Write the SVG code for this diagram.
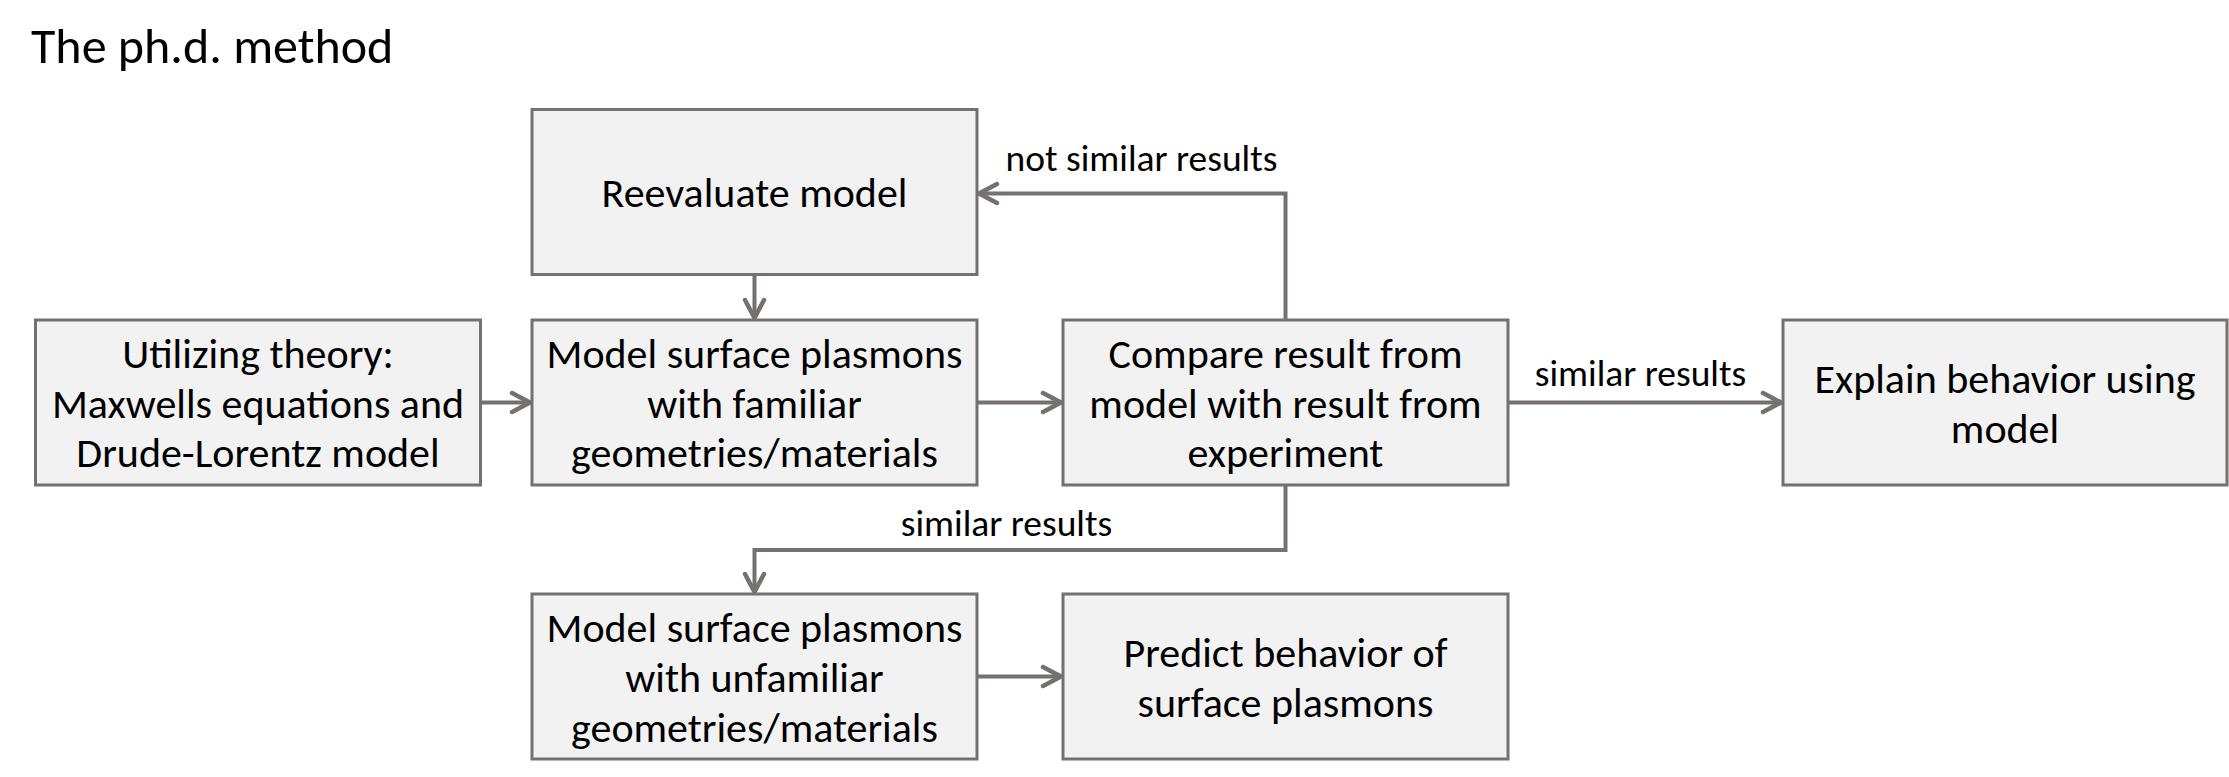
<svg xmlns="http://www.w3.org/2000/svg" width="2229" height="777" viewBox="0 0 2229 777">
<defs>
<style>
.box{fill:#F2F2F2;stroke:#767171;stroke-width:3}
.t{font-family:Carlito,Lato,"Liberation Sans",sans-serif;font-size:42px;fill:#000;text-anchor:middle}
.lbl{font-family:Carlito,Lato,"Liberation Sans",sans-serif;font-size:37.5px;fill:#000;text-anchor:middle}
.title{font-family:Carlito,Lato,"Liberation Sans",sans-serif;font-size:50px;fill:#000}
.c{fill:none;stroke:#767171;stroke-width:4}
</style>
<marker id="arr" markerUnits="userSpaceOnUse" viewBox="-3 -3 26 26" markerWidth="26" markerHeight="26" refX="18" refY="10" orient="auto">
<path d="M0,0.5 L18,10 L0,19.5" fill="none" stroke="#767171" stroke-width="4.5" stroke-linecap="round" stroke-linejoin="round"/>
</marker>
</defs>
<rect width="2229" height="777" fill="#fff"/>
<text class="title" x="31" y="63">The ph.d. method</text>

<g id="connectors">
<path class="c" d="M480.5,402.5 H530" marker-end="url(#arr)"/>
<path class="c" d="M977,402.5 H1061" marker-end="url(#arr)"/>
<path class="c" d="M1508,402.5 H1781" marker-end="url(#arr)"/>
<path class="c" d="M754.5,274 V318" marker-end="url(#arr)"/>
<path class="c" d="M1285.5,320 V193.5 H979" marker-end="url(#arr)"/>
<path class="c" d="M1285.5,485 V550 H754.5 V592" marker-end="url(#arr)"/>
<path class="c" d="M977,676.5 H1061" marker-end="url(#arr)"/>
<text class="lbl" x="1141.5" y="170.5">not similar results</text>
<text class="lbl" x="1640.5" y="385.5">similar results</text>
<text class="lbl" x="1006.5" y="535.5">similar results</text>
</g>

<g id="reevaluate">
<rect class="box" x="532" y="109.5" width="445" height="165"/>
<text class="t" x="754.5" y="206.5">Reevaluate model</text>
</g>
<g id="theory">
<rect class="box" x="35.5" y="320" width="445" height="165"/>
<text class="t" x="258" y="367.5">Utilizing theory:</text>
<text class="t" x="258" y="417.5">Maxwells equations and</text>
<text class="t" x="258" y="467">Drude-Lorentz model</text>
</g>
<g id="familiar">
<rect class="box" x="532" y="320" width="445" height="165"/>
<text class="t" x="754.5" y="367.5">Model surface plasmons</text>
<text class="t" x="754.5" y="417.5">with familiar</text>
<text class="t" x="754.5" y="467">geometries/materials</text>
</g>
<g id="compare">
<rect class="box" x="1063" y="320" width="445" height="165"/>
<text class="t" x="1285.5" y="367.5">Compare result from</text>
<text class="t" x="1285.5" y="417.5">model with result from</text>
<text class="t" x="1285.5" y="467">experiment</text>
</g>
<g id="explain">
<rect class="box" x="1783" y="320" width="444" height="165"/>
<text class="t" x="2005" y="392.5">Explain behavior using</text>
<text class="t" x="2005" y="442.5">model</text>
</g>
<g id="unfamiliar">
<rect class="box" x="532" y="594" width="445" height="165"/>
<text class="t" x="754.5" y="642">Model surface plasmons</text>
<text class="t" x="754.5" y="692">with unfamiliar</text>
<text class="t" x="754.5" y="741.5">geometries/materials</text>
</g>
<g id="predict">
<rect class="box" x="1063" y="594" width="445" height="165"/>
<text class="t" x="1285.5" y="666.5">Predict behavior of</text>
<text class="t" x="1285.5" y="716.5">surface plasmons</text>
</g>
</svg>
